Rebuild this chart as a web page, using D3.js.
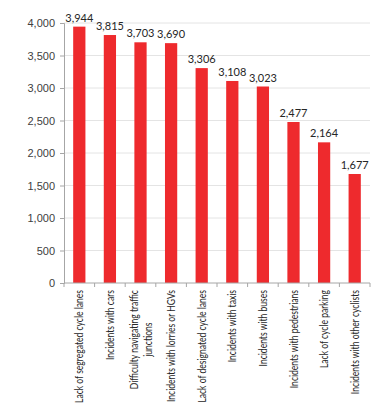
<!DOCTYPE html>
<html>
<head>
<meta charset="utf-8">
<script src="https://cdn.jsdelivr.net/npm/d3@7"></script>
<style>
  body { margin: 0; background: #fff; }
</style>
</head>
<body>
<div id="chart"></div>
<script>
const categories = [
    ["Lack of segregated cycle lanes"],
    ["Incidents with cars"],
    ["Difficulty navigating traffic", "junctions"],
    ["Incidents with lorries or HGVs"],
    ["Lack of designated cycle lanes"],
    ["Incidents with taxis"],
    ["Incidents with buses"],
    ["Incidents with pedestrians"],
    ["Lack of cycle parking"],
    ["Incidents with other cyclists"]
];
const values = [3944, 3815, 3703, 3690, 3306, 3108, 3023, 2477, 2164, 1677];
const yTicks = [0, 500, 1000, 1500, 2000, 2500, 3000, 3500, 4000];

const W = 384, H = 416;
const margin = {top: 23, right: 14, bottom: 133, left: 64};
const width = W - margin.left - margin.right;
const height = H - margin.top - margin.bottom;

const svg = d3.select("#chart")
    .append("svg")
    .attr("width", W)
    .attr("height", H)
    .style("font-family", "Lato, 'Open Sans', sans-serif")
    .append("g")
    .attr("transform", `translate(${margin.left},${margin.top})`);

const x = d3.scaleBand()
    .domain(d3.range(categories.length))
    .range([0, width])
    .paddingInner(0.6)
    .paddingOuter(0.3);

const y = d3.scaleLinear()
    .domain([0, 4000])
    .range([height, 0]);

// gridlines
svg.append("g")
    .selectAll("line")
    .data(yTicks.slice(1))
    .enter()
    .append("line")
    .attr("x1", 0)
    .attr("x2", width)
    .attr("y1", d => y(d))
    .attr("y2", d => y(d))
    .attr("stroke", "#e4e4e4");

// y axis
const yAxis = svg.append("g")
    .call(d3.axisLeft(y).tickValues(yTicks).tickFormat(d3.format(",")).tickSize(4).tickPadding(5));
yAxis.select(".domain").attr("stroke", "#a6a6a6");
yAxis.selectAll(".tick line").attr("stroke", "#a6a6a6");
yAxis.selectAll("text").attr("fill", "#404040").style("font-size", "11px");

// bars
svg.selectAll("rect.bar")
    .data(values)
    .enter()
    .append("rect")
    .attr("class", "bar")
    .attr("x", (d, i) => x(i))
    .attr("y", d => y(d))
    .attr("width", x.bandwidth())
    .attr("height", d => height - y(d))
    .attr("fill", "#ee2a2d");

// value labels
svg.selectAll("text.val")
    .data(values)
    .enter()
    .append("text")
    .attr("class", "val")
    .attr("x", (d, i) => x(i) + x.bandwidth() / 2)
    .attr("y", d => y(d) - 5)
    .attr("text-anchor", "middle")
    .attr("fill", "#262626")
    .style("font-size", "11px")
    .text(d => d3.format(",")(d));

// x axis line + ticks at category boundaries
const step = x.step();
const xAxis = svg.append("g").attr("transform", `translate(0,${height})`);
xAxis.append("line")
    .attr("x1", 0).attr("x2", width)
    .attr("stroke", "#a6a6a6");
xAxis.selectAll("line.tk")
    .data(d3.range(categories.length + 1))
    .enter()
    .append("line")
    .attr("class", "tk")
    .attr("x1", i => i * step).attr("x2", i => i * step)
    .attr("y1", 0).attr("y2", 4)
    .attr("stroke", "#a6a6a6");

// rotated category labels (centre-aligned lines, block ends at the axis)
const lbl = xAxis.selectAll("text.cat")
    .data(categories)
    .enter()
    .append("text")
    .attr("class", "cat")
    .attr("fill", "#262626")
    .style("font-size", "11px");

lbl.selectAll("tspan")
    .data(d => d.map((t, k) => ({t, k, n: d.length})))
    .enter()
    .append("tspan")
    .attr("y", d => (d.k - (d.n - 1) / 2) * 14 + 4)
    .attr("text-anchor", "middle")
    .text(d => d.t);

// squeeze the labels so the longest one is as long as in the reference
const ref = lbl.filter((d, i) => i === 0).select("tspan").node().getComputedTextLength();
const sx = 113 / ref;
lbl.each(function(d, i) {
    const spans = d3.select(this).selectAll("tspan");
    const w = d3.max(spans.nodes(), n => n.getComputedTextLength());
    spans.attr("x", -w / 2);
    d3.select(this).attr("transform",
        `translate(${x(i) + x.bandwidth() / 2},7) rotate(-90) scale(${sx},1)`);
});
</script>
</body>
</html>
